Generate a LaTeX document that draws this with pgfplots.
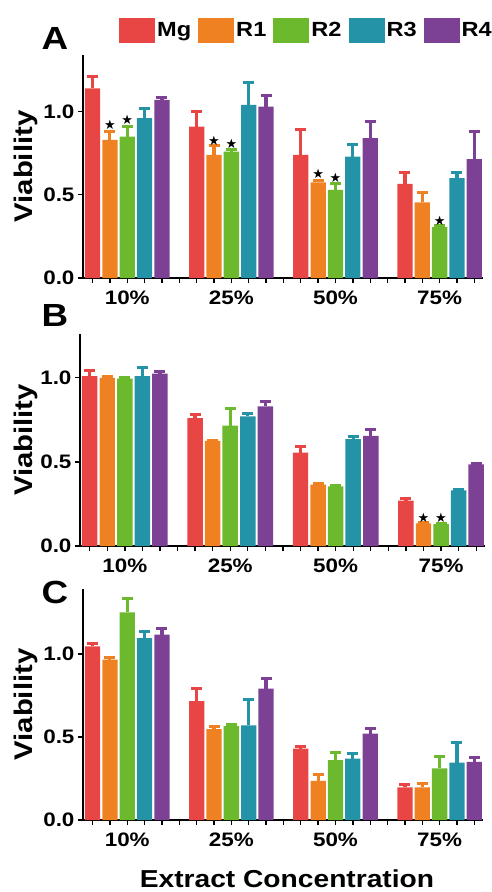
\documentclass[border=0pt]{standalone}
\usepackage{pgfplots}
\pgfplotsset{compat=1.18}
\usepackage{pgfplotstable}
\usepackage{fontspec}
\setmainfont{Liberation Sans}[FakeStretch=1.15]
\newfontfamily\dejavu{DejaVu Sans}

\definecolor{cMg}{HTML}{E84545}
\definecolor{cR1}{HTML}{EF8122}
\definecolor{cR2}{HTML}{6CB92E}
\definecolor{cR3}{HTML}{2593A7}
\definecolor{cR4}{HTML}{7C4094}

% g = group (0:10%, 1:25%, 2:50%, 3:75%)
\pgfplotstableread{
g mg mge r1 r1e r2 r2e r3 r3e r4 r4e
0 1.14 0.07 0.83 0.05 0.85 0.06 0.96 0.06 1.07 0.015
1 0.91 0.09 0.74 0.055 0.76 0.01 1.04 0.135 1.03 0.065
2 0.74 0.155 0.575 0.008 0.53 0.04 0.73 0.07 0.84 0.10
3 0.565 0.07 0.455 0.06 0.305 0.008 0.60 0.035 0.715 0.165
}\tabA
\pgfplotstableread{
g mg mge r1 r1e r2 r2e r3 r3e r4 r4e
0 1.01 0.035 1.0 0.005 0.995 0.005 1.01 0.05 1.025 0.01
1 0.76 0.02 0.625 0.005 0.715 0.10 0.77 0.02 0.83 0.03
2 0.555 0.035 0.365 0.005 0.355 0.005 0.635 0.015 0.655 0.035
3 0.27 0.015 0.135 0.003 0.13 0.003 0.33 0.005 0.485 0.005
}\tabB
\pgfplotstableread{
g mg mge r1 r1e r2 r2e r3 r3e r4 r4e
0 1.045 0.015 0.965 0.012 1.25 0.08 1.095 0.04 1.115 0.035
1 0.715 0.075 0.547 0.015 0.565 0.01 0.57 0.155 0.79 0.06
2 0.43 0.01 0.235 0.04 0.36 0.045 0.37 0.03 0.52 0.03
3 0.197 0.015 0.197 0.02 0.31 0.075 0.345 0.12 0.35 0.025
}\tabC

\pgfplotsset{
  panel/.style={
    scale only axis, width=400pt, xmin=-0.55, xmax=22.5, ymin=0,
    axis x line*=bottom, axis y line*=left,
    axis line style={line width=2pt, black},
    xtick={0,...,22},
    xticklabels={{},{},10\%,{},{},{},{},{},25\%,{},{},{},{},{},50\%,{},{},{},{},{},75\%,{},{}},
    ytick={0,0.5,1},
    tick style={black, line width=1.4pt},
    tick align=outside, major tick length=5pt,
    tick label style={font=\fontsize{19.5}{19.5}\selectfont\bfseries},
    xticklabel style={yshift=-4pt},
    yticklabel style={/pgf/number format/.cd, fixed, fixed zerofill, precision=1, assume math mode=true},
    ylabel={Viability},
    every axis y label/.style={at={(axis description cs:-0.143,0.5)}, rotate=90, anchor=center, font=\fontsize{25.5}{25.5}\selectfont\bfseries},
    clip=false,
  },
  errb/.style={ybar, bar width=0.88, fill=#1, draw=none,
    error bars/.cd, y dir=plus, y explicit, error mark=-,
    error bar style={draw=#1, line width=3.2pt},
    error mark options={draw=#1, fill=#1, rotate=90, mark size=5.5pt, line width=3pt}},
  stars/.style={forget plot, only marks, black, mark=text,
    text mark={\fontsize{13}{13}\selectfont\dejavu ★}},
}

\newcommand{\panelbars}[1]{%
  \addplot[errb=cMg] table[x expr=\thisrow{g}*6, y=mg, y error=mge] {#1};
  \addplot[errb=cR1] table[x expr=\thisrow{g}*6+1, y=r1, y error=r1e] {#1};
  \addplot[errb=cR2] table[x expr=\thisrow{g}*6+2, y=r2, y error=r2e] {#1};
  \addplot[errb=cR3] table[x expr=\thisrow{g}*6+3, y=r3, y error=r3e] {#1};
  \addplot[errb=cR4] table[x expr=\thisrow{g}*6+4, y=r4, y error=r4e] {#1};
}

\begin{document}
\begin{tikzpicture}
\path[use as bounding box] (0pt,0pt) rectangle (491pt,-892pt);

% Panel A
\begin{axis}[panel, at={(83pt,-278pt)}, anchor=south west, height=223pt, ymax=1.34,
  legend style={at={(axis description cs:0.09,1.11)}, anchor=west, draw=none, fill=none,
    inner sep=0pt, legend columns=5, font=\fontsize{20.5}{20.5}\selectfont\bfseries,
    nodes={inner sep=2pt},
    /tikz/every even column/.append style={column sep=5pt}},
  legend image code/.code={\fill[#1, draw=none] (0pt,-12.5pt) rectangle (36pt,12.5pt);},
]
\panelbars{\tabA}
\legend{Mg,R1,R2,R3,R4}
\addplot[stars] coordinates {(1,0.92) (2,0.952) (7,0.827) (8,0.807) (13,0.627) (14,0.60) (20,0.345)};
\end{axis}

% Panel B
\begin{axis}[panel, at={(80pt,-546pt)}, anchor=south west, width=405pt, height=212pt, ymax=1.26,
  every axis y label/.style={at={(axis description cs:-0.134,0.5)}, rotate=90, anchor=center, font=\fontsize{25.5}{25.5}\selectfont\bfseries}]
\panelbars{\tabB}
\addplot[stars] coordinates {(19,0.168) (20,0.168)};
\end{axis}

% Panel C
\begin{axis}[panel, at={(83pt,-820pt)}, anchor=south west, height=231pt, ymax=1.39,
  xlabel={Extract Concentration},
  every axis x label/.style={at={(axis description cs:0.51,-0.2554)}, anchor=center, font=\fontsize{24.5}{24.5}\selectfont\bfseries}]
\panelbars{\tabC}
\end{axis}

\node[font=\fontsize{32}{32}\selectfont\bfseries] at (55pt,-38.5pt) {A};
\node[font=\fontsize{32}{32}\selectfont\bfseries] at (55pt,-315.5pt) {B};
\node[font=\fontsize{32}{32}\selectfont\bfseries] at (55pt,-592pt) {C};
\end{tikzpicture}
\end{document}
